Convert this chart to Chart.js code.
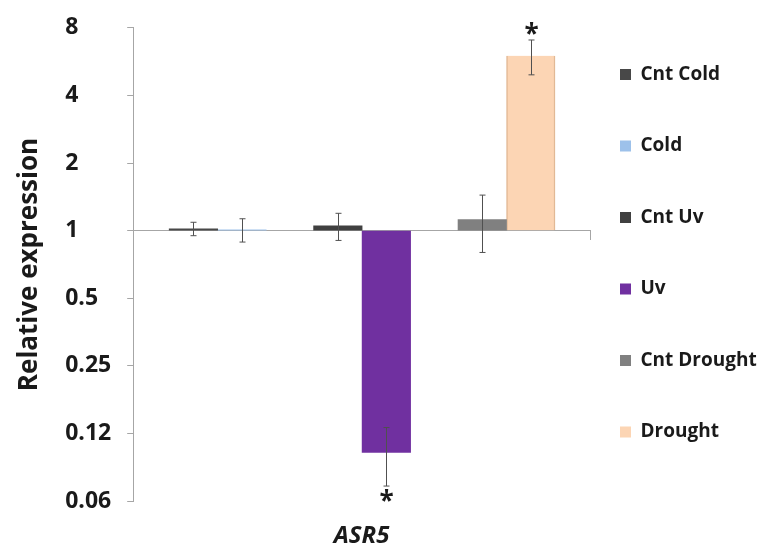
<!DOCTYPE html>
<html>
<head>
<meta charset="utf-8">
<title>ASR5 relative expression</title>
<script src="https://cdn.jsdelivr.net/npm/chart.js@4.4.1/dist/chart.umd.min.js"></script>
<style>
  html, body { margin: 0; padding: 0; background: #fff; }
  #wrap { width: 760px; height: 552px; }
</style>
</head>
<body>
<div id="wrap"><canvas id="myChart" width="760" height="552"></canvas></div>
<script>
// values (fold change, log2 axis)
var seriesNames = ['Cnt Cold', 'Cold', 'Cnt Uv', 'Uv', 'Cnt Drought', 'Drought'];
var groupIndex = [0, 0, 1, 1, 2, 2];
var seriesValues = [1.02, 1.01, 1.05, 0.103, 1.12, 6.0];
var seriesErrors = [0.07, 0.12, 0.145, 0.03, 0.32, 1.06];
var significant = [false, false, false, true, false, true];
var seriesColors = ['#484848', '#9dc1ea', '#404040', '#7030a0', '#808080', '#fcd5b4'];
var yTicks = [0.0625, 0.125, 0.25, 0.5, 1, 2, 4, 8];
var yTickLabels = ['0.06', '0.12', '0.25', '0.5', '1', '2', '4', '8'];
var geneLabel = 'ASR5';
var yTitle = 'Relative expression';
var groups = [0, 1, 2];

var schedule = document.getElementById('myChart').getContext('2d');
var xMin = -0.585, xMax = 2.578;
var textColor = '#1a1a1a';
var axisColor = '#a6a6a6';

var datasetsArr = seriesNames.map(function(name, i) {
    return {
        label: name,
        xAxisID: 'x',
        yAxisID: 'y',
        data: groups.map(function(g) {
            return {x: g, y: g === groupIndex[i] ? seriesValues[i] : null};
        }),
        backgroundColor: seriesColors[i],
        borderColor: i === 5 ? '#e2b995' : seriesColors[i],
        borderWidth: i === 5 ? {left: 1.5, right: 1.5, top: 0, bottom: 0} : 0,
        base: 1,
        barThickness: 48.5,
        skipNull: true
    };
});

// error bars + asterisks, drawn through the scales
var errorBarPlugin = {
    id: 'errorBars',
    afterDatasetsDraw: function(chart) {
        var ctx = chart.ctx;
        var yScale = chart.scales.y;
        ctx.save();
        chart.data.datasets.forEach(function(ds, i) {
            var bar = chart.getDatasetMeta(i).data[groupIndex[i]];
            if (!bar) return;
            var x = Math.round(bar.x) + 0.5;
            var v = seriesValues[i], e = seriesErrors[i];
            var yHi = yScale.getPixelForValue(v + e);
            var yLo = yScale.getPixelForValue(v - e);
            ctx.strokeStyle = '#505050';
            ctx.lineWidth = 1;
            ctx.beginPath();
            ctx.moveTo(x, yHi);
            ctx.lineTo(x, yLo);
            ctx.moveTo(x - 3, yHi);
            ctx.lineTo(x + 3, yHi);
            ctx.moveTo(x - 3, yLo);
            ctx.lineTo(x + 3, yLo);
            ctx.stroke();
            if (significant[i]) {
                ctx.fillStyle = textColor;
                ctx.font = 'bold 26px "Open Sans"';
                ctx.textAlign = 'center';
                ctx.textBaseline = 'alphabetic';
                if (v >= 1) {
                    ctx.fillText('*', x, yHi + 3);
                } else {
                    ctx.fillText('*', x, yLo + 24);
                }
            }
        });
        ctx.restore();
    }
};

var chart = new Chart(schedule, {
    type: 'bar',
    data: {
        datasets: datasetsArr
    },
    plugins: [errorBarPlugin],
    options: {
        responsive: false,
        animation: false,
        devicePixelRatio: 1,
        layout: {padding: {top: 19, left: 0, right: 0, bottom: 0}},
        plugins: {
            tooltip: {enabled: false},
            title: {
                display: true,
                position: 'left',
                fullSize: false,
                text: yTitle,
                color: textColor,
                font: {family: 'Open Sans', size: 26, weight: 'bold', lineHeight: 1.2},
                padding: {top: 14, bottom: 20}
            },
            legend: {
                position: 'right',
                fullSize: false,
                align: 'center',
                maxWidth: 170,
                labels: {
                    boxWidth: 11,
                    boxHeight: 11,
                    padding: 30,
                    color: textColor,
                    font: {family: 'Open Sans', size: 19, weight: 'bold', lineHeight: 1.092},
                    generateLabels: function(c) {
                        var items = Chart.defaults.plugins.legend.labels.generateLabels(c);
                        return items.map(function(it) {
                            it.text = [it.text, ''];
                            it.lineWidth = 0;
                            return it;
                        });
                    }
                }
            }
        },
        scales: {
            x: {
                type: 'linear',
                position: 'bottom',
                offset: false,
                min: xMin,
                max: xMax,
                border: {display: false},
                grid: {display: false, drawTicks: false, offset: false},
                ticks: {display: false},
                title: {
                    display: true,
                    text: geneLabel,
                    color: textColor,
                    font: {family: 'Open Sans', size: 24, weight: 'bold', style: 'italic', lineHeight: 1.2},
                    padding: {top: 21, bottom: 1}
                }
            },
            xb: {
                type: 'linear',
                axis: 'x',
                position: {y: 1},
                offset: false,
                min: xMin,
                max: xMax,
                border: {display: true, color: axisColor, width: 1},
                grid: {drawOnChartArea: false, drawTicks: true, tickLength: 9, color: axisColor, offset: false},
                ticks: {display: false},
                afterBuildTicks: function(scale) {
                    scale.ticks = [{value: scale.max}];
                }
            },
            y: {
                type: 'logarithmic',
                position: 'left',
                min: yTicks[0],
                max: yTicks[yTicks.length - 1],
                border: {display: true, color: axisColor, width: 1},
                grid: {drawOnChartArea: false, drawTicks: true, tickLength: 6, color: axisColor},
                afterBuildTicks: function(scale) {
                    scale.ticks = yTicks.map(function(v) { return {value: v}; });
                },
                afterFit: function(scale) {
                    scale.width = 68;
                },
                ticks: {
                    autoSkip: false,
                    crossAlign: 'far',
                    padding: 14,
                    color: textColor,
                    font: {family: 'Open Sans', size: 23, weight: 'bold'},
                    callback: function(value, index) {
                        return yTickLabels[index];
                    }
                }
            }
        }
    }
});
</script>
</body>
</html>
